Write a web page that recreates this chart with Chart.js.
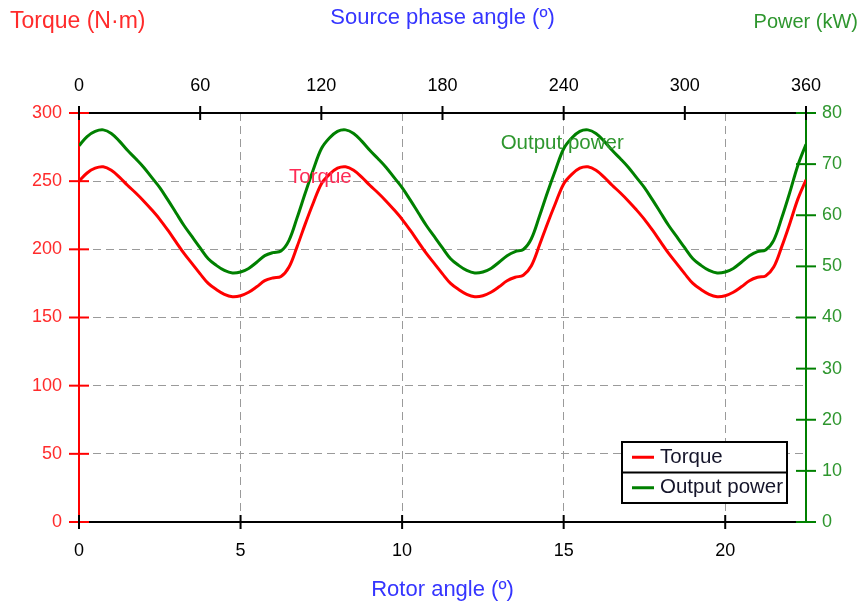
<!DOCTYPE html>
<html>
<head>
<meta charset="utf-8">
<script src="https://cdn.jsdelivr.net/npm/chart.js@4/dist/chart.umd.min.js"></script>
<style>
  html, body { margin: 0; padding: 0; background: #fff; }
  #wrap { width: 861px; height: 603px; position: relative; }
</style>
</head>
<body>
<div id="wrap"><canvas id="torque_chart"></canvas></div>
<script>
// rotor angle (deg) sampled every 0.25 deg
var rotorAngle = [0,0.25,0.5,0.75,1,1.25,1.5,1.75,2,2.25,2.5,2.75,3,3.25,3.5,3.75,4,4.25,4.5,4.75,5,5.25,5.5,5.75,6,6.25,6.5,6.75,7,7.25,
  7.5,7.75,8,8.25,8.5,8.75,9,9.25,9.5,9.75,10,10.25,10.5,10.75,11,11.25,11.5,11.75,12,12.25,12.5,12.75,13,13.25,13.5,13.75,14,14.25,14.5,14.75,
  15,15.25,15.5,15.75,16,16.25,16.5,16.75,17,17.25,17.5,17.75,18,18.25,18.5,18.75,19,19.25,19.5,19.75,20,20.25,20.5,20.75,21,21.25,21.5,21.75,22,22.25,22.5];

// torque (N·m)
var torque = [250,256,259.5,260.5,258,253,247,241.5,235.5,229,222,214,205.5,197,189.5,182,175,170.5,167,165.3,166,168.5,172.5,177,179,180,187,202,218.5,234,
  248,255,259.5,260.5,258,253,247,241.5,235.5,229,222,214,205.5,197,189.5,182,175,170.5,167,165.3,166,168.5,172.5,177,179.5,181,188,203,219,234,
  248,255,259.5,260.5,258,253,247,241.5,235.5,229,222,214,205.5,197,189.5,182,175,170.5,167,165.3,166,168.5,172.5,177,179.5,180.5,187,202,219,237,
  251];

// output power (kW)
var power = [73.6,75.4,76.4,76.7,76.0,74.5,72.7,71.1,69.4,67.4,65.4,63.0,60.5,58.0,55.8,53.6,51.5,50.2,49.2,48.7,48.9,49.6,50.8,52.1,52.7,53.0,55.1,59.5,64.3,68.9,
  73.0,75.1,76.4,76.7,76.0,74.5,72.7,71.1,69.4,67.4,65.4,63.0,60.5,58.0,55.8,53.6,51.5,50.2,49.2,48.7,48.9,49.6,50.8,52.1,52.9,53.3,55.4,59.8,64.5,68.9,
  73.0,75.1,76.4,76.7,76.0,74.5,72.7,71.1,69.4,67.4,65.4,63.0,60.5,58.0,55.8,53.6,51.5,50.2,49.2,48.7,48.9,49.6,50.8,52.1,52.9,53.2,55.1,59.5,64.5,69.8,
  73.9];

var rotorTicks = [0, 5, 10, 15, 20];
var phaseTicks = [0, 60, 120, 180, 240, 300, 360];
var torqueTicks = [0, 50, 100, 150, 200, 250, 300];
var powerTicks = [0, 10, 20, 30, 40, 50, 60, 70, 80];

var RED = '#ff0000';
var GREEN = '#008000';
var FONT = "'Liberation Sans', Arial, sans-serif";

function toTicks(list) {
  return function (scale) { scale.ticks = list.map(function (v) { return { value: v }; }); };
}

// tick marks crossing the axes, titles, labels and the boxed legend
var decorations = {
  id: 'decorations',
  afterDraw: function (chart) {
    var ctx = chart.ctx;
    var area = chart.chartArea;
    var s = chart.scales;
    ctx.save();
    ctx.lineWidth = 2;

    function crossY(scale, list, xPos, color) {
      ctx.strokeStyle = color;
      list.forEach(function (v) {
        var y = scale.getPixelForValue(v);
        ctx.beginPath(); ctx.moveTo(xPos - 10, y); ctx.lineTo(xPos + 10, y); ctx.stroke();
      });
    }
    function crossX(scale, list, yPos) {
      ctx.strokeStyle = '#000';
      list.forEach(function (v) {
        var x = scale.getPixelForValue(v);
        ctx.beginPath(); ctx.moveTo(x, yPos - 7); ctx.lineTo(x, yPos + 7); ctx.stroke();
      });
    }
    crossY(s.y, torqueTicks, area.left, RED);
    crossY(s.y2, powerTicks, area.right, GREEN);
    crossX(s.x, rotorTicks, area.bottom);
    crossX(s.x2, phaseTicks, area.top);

    // axis titles
    ctx.textBaseline = 'middle';
    ctx.textAlign = 'left';
    ctx.font = '23px ' + FONT;
    ctx.fillStyle = '#ff2b2b';
    ctx.fillText('Torque (N·m)', 10, 22);
    ctx.textAlign = 'right';
    ctx.font = '20px ' + FONT;
    ctx.fillStyle = '#2e962e';
    ctx.fillText('Power (kW)', 858, 22);
    ctx.textAlign = 'center';
    ctx.font = '22px ' + FONT;
    ctx.fillStyle = '#3535ff';
    var cx = (area.left + area.right) / 2;
    ctx.fillText('Source phase angle (º)', cx, 18);
    ctx.fillText('Rotor angle (º)', cx, 590);

    // series labels inside the plot
    ctx.font = '20.5px ' + FONT;
    ctx.textAlign = 'left';
    ctx.fillStyle = '#ff2a55';
    ctx.fillText('Torque', s.x.getPixelForValue(6.5), s.y.getPixelForValue(253));
    ctx.fillStyle = '#2e962e';
    ctx.fillText('Output power', s.x.getPixelForValue(13.05), s.y2.getPixelForValue(74));

    // legend box
    var lw = 165, rowH = 30.5;
    var lx = area.right - 19 - lw, ly = area.bottom - 19 - 2 * rowH;
    ctx.fillStyle = '#fff';
    ctx.fillRect(lx, ly, lw, 2 * rowH);
    ctx.strokeStyle = '#000';
    ctx.lineWidth = 2;
    ctx.strokeRect(lx, ly, lw, 2 * rowH);
    ctx.beginPath(); ctx.moveTo(lx, ly + rowH); ctx.lineTo(lx + lw, ly + rowH); ctx.stroke();
    chart.data.datasets.forEach(function (ds, i) {
      var yy = ly + rowH * i + rowH / 2;
      ctx.strokeStyle = ds.borderColor;
      ctx.lineWidth = 3;
      ctx.beginPath(); ctx.moveTo(lx + 10, yy); ctx.lineTo(lx + 32, yy); ctx.stroke();
      ctx.fillStyle = '#15152a';
      ctx.font = '20.5px ' + FONT;
      ctx.fillText(ds.label, lx + 38, yy);
    });
    ctx.restore();
  }
};

new Chart(document.getElementById('torque_chart'), {
  type: 'line',
  data: {
    datasets: [
      {
        label: 'Torque',
        data: rotorAngle.map(function (a, i) { return { x: a, y: torque[i] }; }),
        borderColor: RED,
        borderWidth: 3,
        pointRadius: 0,
        tension: 0.35,
        yAxisID: 'y'
      },
      {
        label: 'Output power',
        data: rotorAngle.map(function (a, i) { return { x: a, y: power[i] }; }),
        borderColor: GREEN,
        borderWidth: 3,
        pointRadius: 0,
        tension: 0.35,
        yAxisID: 'y2'
      }
    ]
  },
  options: {
    responsive: true,
    maintainAspectRatio: false,
    animation: false,
    layout: { padding: 0 },
    plugins: { legend: { display: false }, tooltip: { enabled: false } },
    scales: {
      x: {
        type: 'linear', position: 'bottom', min: 0, max: 22.5,
        afterBuildTicks: toTicks(rotorTicks),
        afterFit: function (sc) { sc.height = 81; },
        grid: {
          drawTicks: false, lineWidth: 1,
          color: function (c) { return (c.tick && c.tick.value === 0) ? 'rgba(0,0,0,0)' : '#9a9a9a'; }
        },
        border: { color: '#000', width: 2, dash: [8, 5] },
        ticks: { padding: 18, color: '#000', font: { family: FONT, size: 18 } }
      },
      x2: {
        type: 'linear', position: 'top', min: 0, max: 360,
        afterBuildTicks: toTicks(phaseTicks),
        afterFit: function (sc) { sc.height = 113; },
        grid: { drawOnChartArea: false, drawTicks: false },
        border: { color: '#000', width: 2 },
        ticks: { padding: 16, color: '#000', font: { family: FONT, size: 18 } }
      },
      y: {
        type: 'linear', position: 'left', min: 0, max: 300,
        afterBuildTicks: toTicks(torqueTicks),
        afterFit: function (sc) { sc.width = 79; },
        grid: {
          drawTicks: false, lineWidth: 1,
          color: function (c) { return (c.tick && (c.tick.value === 0 || c.tick.value === 300)) ? 'rgba(0,0,0,0)' : '#9a9a9a'; }
        },
        border: { color: RED, width: 2, dash: [8, 5] },
        ticks: { padding: 17, color: '#ff2b2b', font: { family: FONT, size: 18 } }
      },
      y2: {
        type: 'linear', position: 'right', min: 0, max: 80,
        afterBuildTicks: toTicks(powerTicks),
        afterFit: function (sc) { sc.width = 55; },
        grid: { drawOnChartArea: false, drawTicks: false },
        border: { color: GREEN, width: 2 },
        ticks: { padding: 16, color: '#2e962e', font: { family: FONT, size: 18 } }
      }
    }
  },
  plugins: [decorations]
});
</script>
</body>
</html>
